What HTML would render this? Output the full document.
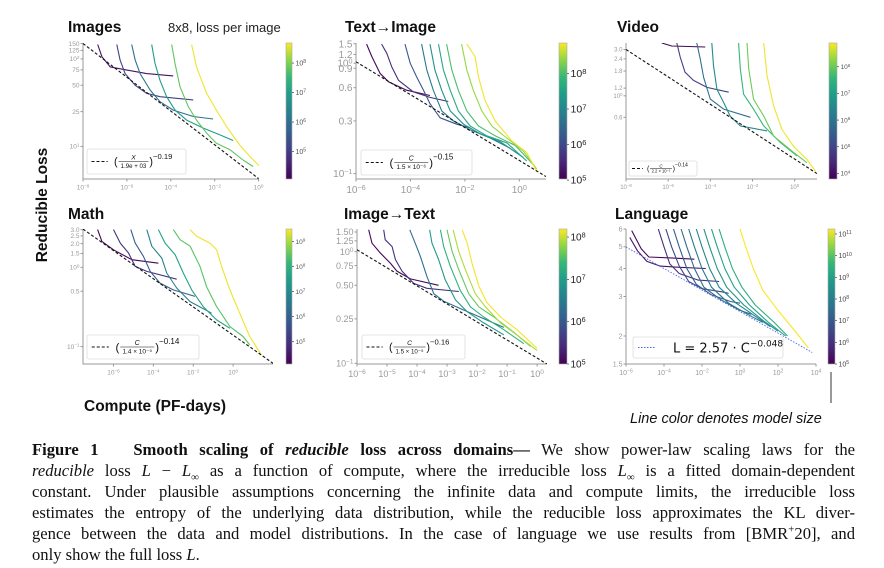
<!DOCTYPE html>
<html><head><meta charset="utf-8">
<style>
html,body{margin:0;padding:0;background:#fff;}
body{width:884px;height:568px;position:relative;overflow:hidden;font-family:"Liberation Sans","DejaVu Sans",sans-serif;}
#fig{position:absolute;left:0;top:0;}
.cap{position:absolute;left:32px;width:823px;height:21px;font-family:"Liberation Serif",serif;font-size:16.6px;line-height:21px;color:#111;white-space:nowrap;}
.j{text-align:justify;text-align-last:justify;white-space:normal;}
.cap sub,.cap sup{line-height:0;font-size:11px;}
</style></head>
<body>
<svg id="fig" width="884" height="440" viewBox="0 0 884 440" xmlns="http://www.w3.org/2000/svg">
<defs>
<linearGradient id="vir" x1="0" y1="1" x2="0" y2="0">
<stop offset="0" stop-color="#440154"/><stop offset="0.13" stop-color="#482878"/><stop offset="0.25" stop-color="#3e4989"/><stop offset="0.38" stop-color="#31688e"/><stop offset="0.5" stop-color="#26828e"/><stop offset="0.63" stop-color="#1f9e89"/><stop offset="0.75" stop-color="#35b779"/><stop offset="0.88" stop-color="#90d743"/><stop offset="1" stop-color="#fde725"/>
</linearGradient>
</defs>
<g id="panels"></g>
<text x="47" y="205" transform="rotate(-90 47 205)" text-anchor="middle" font-size="15.5" font-weight="bold" fill="#111">Reducible  Loss</text>
<text x="84" y="411" font-size="15.5" font-weight="bold" fill="#111">Compute (PF-days)</text>
<line x1="831" y1="372" x2="831" y2="403" stroke="#333" stroke-width="1"/>
<text x="630" y="423" font-size="14.5" font-style="italic" fill="#111">Line color denotes model size</text>
</svg>

<div class="cap j" style="top:439px"><b>Figure 1&nbsp;&nbsp;&nbsp;Smooth scaling of <i>reducible</i> loss across domains—</b> We show power-law scaling laws for the</div>
<div class="cap j" style="top:460px"><i>reducible</i> loss <i>L</i> − <i>L</i><sub>∞</sub> as a function of compute, where the irreducible loss <i>L</i><sub>∞</sub> is a fitted domain-dependent</div>
<div class="cap j" style="top:481px">constant. Under plausible assumptions concerning the infinite data and compute limits, the irreducible loss</div>
<div class="cap j" style="top:502px">estimates the entropy of the underlying data distribution, while the reducible loss approximates the KL diver-</div>
<div class="cap j" style="top:523px">gence between the data and model distributions. In the case of language we use results from [BMR<sup>+</sup>20], and</div>
<div class="cap" style="top:544px">only show the full loss <i>L</i>.</div>

<script>
// ---------- DATA: curves are [log10(compute), loss] ----------
const imagesCurves = [
 [[-7.33,146],[-7.14,106],[-6.76,81],[-6.0,74.5],[-5.1,68],[-3.89,64]],
 [[-6.46,146],[-6.31,97],[-6.08,68],[-5.62,50],[-5.1,40.5],[-4.49,37],[-2.98,34]],
 [[-5.78,146],[-5.62,97],[-5.40,68],[-4.94,44],[-4.49,32.5],[-3.89,26],[-2.98,22],[-2.07,20.6]],
 [[-4.87,146],[-4.72,89],[-4.49,57],[-4.19,37],[-3.81,26],[-3.28,20],[-2.52,16.2],[-1.77,13.6],[-1.16,11.7]],
 [[-3.96,146],[-3.81,89],[-3.58,48],[-3.20,28.5],[-2.83,20],[-2.37,14.2],[-1.92,10.9],[-1.31,9.2],[-0.71,7.0],[-0.25,5.9]],
 [[-3.05,146],[-2.83,81],[-2.37,40.5],[-1.92,26],[-1.46,16.9],[-0.86,10.4],[-0.40,7.7],[0.12,5.7]]
];
const imagesSizes = [4.3,5.1,6.0,6.9,7.8,8.6];
const imagesFit = [[-8,150],[0,4.3]];
const imagesYTicks = [150,125,100,75,50,25,10];
const imagesYLabels = ["150","125","10^2","75","50","25","10^1"];
const imagesXTicks = [-8,-6,-4,-2,0];
const imagesCbTicks = [5,6,7,8];

const t2iCurves = [
 [[-5.61,1.49],[-5.42,1.15],[-5.12,0.81],[-4.81,0.68],[-4.14,0.57],[-3.28,0.51]],
 [[-5.06,1.49],[-4.87,1.23],[-4.69,0.93],[-4.44,0.70],[-3.89,0.55],[-3.28,0.49],[-2.61,0.45]],
 [[-4.2,1.49],[-4.01,1.0],[-3.77,0.75],[-3.52,0.57],[-3.28,0.43],[-2.91,0.32],[-2.30,0.28],[-1.81,0.26]],
 [[-3.59,1.49],[-3.40,0.87],[-3.16,0.57],[-2.85,0.37],[-2.42,0.30],[-1.81,0.25],[-1.07,0.21],[-0.34,0.17]],
 [[-3.28,1.49],[-3.10,0.87],[-2.85,0.57],[-2.54,0.37],[-2.05,0.28],[-1.44,0.23],[-0.71,0.195],[0.15,0.14]],
 [[-2.97,1.49],[-2.79,0.87],[-2.54,0.57],[-2.24,0.37],[-1.81,0.27],[-1.20,0.22],[-0.46,0.19],[0.27,0.13]],
 [[-2.67,1.49],[-2.48,0.87],[-2.24,0.57],[-1.93,0.37],[-1.50,0.27],[-0.89,0.22],[-0.15,0.18],[0.52,0.12]],
 [[-2.12,1.49],[-1.93,0.87],[-1.69,0.57],[-1.38,0.37],[-1.01,0.27],[-0.46,0.21],[0.15,0.16],[0.64,0.11]],
 [[-1.93,1.49],[-1.63,1.15],[-1.50,0.75],[-1.26,0.46],[-0.89,0.30],[-0.28,0.198],[0.27,0.155],[0.64,0.105]]
];
const t2iSizes = [5.1,5.6,6.2,6.8,7.2,7.6,8.0,8.4,8.8];
const t2iFit = [[-6,1.03],[0.98,0.094]];
const t2iYTicks = [1.5,1.2,1.0,0.9,0.6,0.3,0.1];
const t2iYLabels = ["1.5","1.2","10^0","0.9","0.6","0.3","10^-1"];
const t2iXTicks = [-6,-4,-2,0];
const t2iCbTicks = [5,6,7,8];

const videoCurves = [
 [[-6.3,3.5],[-5.83,3.26],[-4.24,3.18]],
 [[-5.59,3.5],[-5.43,2.51],[-5.2,1.75],[-4.8,1.44],[-4.16,1.22],[-3.13,1.09]],
 [[-4.64,3.5],[-4.48,2.41],[-4.32,1.55],[-4.0,0.925],[-3.37,0.73],[-2.1,0.60]],
 [[-3.93,3.5],[-3.85,2.05],[-3.69,1.17],[-3.37,0.855],[-3.06,0.62],[-2.58,0.49],[-1.31,0.435]],
 [[-2.66,3.5],[-2.58,1.90],[-2.42,1.04],[-1.95,0.73],[-1.47,0.49],[-0.68,0.33],[0.11,0.24]],
 [[-2.26,3.5],[-2.18,1.9],[-1.95,0.925],[-1.47,0.62],[-1.0,0.385],[-0.04,0.26],[0.59,0.204]],
 [[-1.47,3.5],[-1.31,1.62],[-1.0,0.79],[-0.6,0.45],[-0.04,0.30],[0.59,0.22],[0.99,0.167]]
];
const videoSizes = [3.9,4.9,5.9,6.5,7.6,8.0,8.8];
const videoFit = [[-8,3.0],[1.06,0.158]];
const videoYTicks = [3.0,2.4,1.8,1.2,1.0,0.6];
const videoYLabels = ["3.0","2.4","1.8","1.2","10^0","0.6"];
const videoXTicks = [-8,-6,-4,-2,0];
const videoCbTicks = [4,5,6,7,8];

const mathCurves = [
 [[-6.80,3.0],[-6.58,2.13],[-6.0,1.67],[-5.08,1.25],[-3.75,1.13]],
 [[-6.0,3.0],[-5.66,2.03],[-5.25,1.52],[-4.91,1.03],[-4.33,0.89],[-2.83,0.71]],
 [[-5.13,3.0],[-4.91,2.03],[-4.5,1.38],[-4.16,0.89],[-3.66,0.63],[-3.0,0.52],[-1.91,0.43]],
 [[-4.33,3.0],[-4.08,1.85],[-3.58,1.31],[-3.33,0.85],[-2.83,0.55],[-2.16,0.37],[-1.08,0.264]],
 [[-3.75,3.0],[-3.41,2.03],[-2.91,1.45],[-2.5,0.85],[-2.08,0.52],[-1.5,0.32],[-0.83,0.217],[-0.16,0.17]],
 [[-3.0,3.0],[-2.66,2.24],[-2.16,1.85],[-1.66,1.03],[-1.33,0.57],[-0.83,0.32],[-0.16,0.179],[0.5,0.134],[0.83,0.105]],
 [[-2.16,3.0],[-1.83,2.47],[-1.16,2.03],[-0.83,1.67],[-0.58,1.03],[-0.16,0.52],[0.33,0.264],[0.83,0.134],[1.42,0.078]]
];
const mathSizes = [4.2,5.0,5.9,6.7,7.6,8.4,9.4];
const mathFit = [[-7.53,3.05],[2.0,0.0615]];
const mathYTicks = [3.0,2.5,2.0,1.5,1.0,0.5,0.1];
const mathYLabels = ["3.0","2.5","2.0","1.5","10^0","0.5","10^-1"];
const mathXTicks = [-6,-4,-2,0];
const mathCbTicks = [5,6,7,8,9];

const i2tCurves = [
 [[-5.61,1.57],[-5.5,1.19],[-5.22,0.97],[-4.89,0.79],[-4.67,0.67],[-4.22,0.57],[-3.28,0.50]],
 [[-5.11,1.57],[-5.06,1.28],[-4.83,1.11],[-4.72,0.85],[-4.5,0.67],[-4.11,0.52],[-3.67,0.47],[-2.61,0.44]],
 [[-4.24,1.57],[-4.06,1.19],[-3.89,0.91],[-3.67,0.60],[-3.44,0.42],[-3.11,0.36],[-2.44,0.30],[-1.11,0.21]],
 [[-3.58,1.57],[-3.5,1.19],[-3.28,0.85],[-3.06,0.56],[-2.72,0.37],[-2.33,0.29],[-1.78,0.23],[-1.11,0.18]],
 [[-3.22,1.57],[-3.11,1.11],[-2.89,0.74],[-2.56,0.45],[-2.22,0.32],[-1.78,0.26],[-1.11,0.20],[-0.44,0.15]],
 [[-3.0,1.57],[-2.83,1.0],[-2.61,0.69],[-2.28,0.42],[-1.94,0.32],[-1.44,0.26],[-0.78,0.19],[-0.22,0.142]],
 [[-2.8,1.57],[-2.61,1.0],[-2.39,0.69],[-2.06,0.42],[-1.72,0.32],[-1.22,0.23],[-0.56,0.17],[0,0.13]],
 [[-2.5,1.57],[-2.33,1.19],[-2.17,0.79],[-1.94,0.49],[-1.67,0.35],[-1.22,0.26],[-0.67,0.20],[0,0.136]]
];
const i2tSizes = [5.05,5.5,6.3,6.9,7.3,7.6,7.9,8.15];
const i2tFit = [[-6,1.04],[0.33,0.0986]];
const i2tYTicks = [1.5,1.25,1.0,0.75,0.5,0.25,0.1];
const i2tYLabels = ["1.50","1.25","10^0","0.75","0.50","0.25","10^-1"];
const i2tXTicks = [-6,-5,-4,-3,-2,-1,0];
const i2tCbTicks = [5,6,7,8];

const langCurves = [
 [[-5.7,5.9],[-5.2,4.9],[-4.8,4.5],[-3.5,4.45],[-2.4,4.4]],
 [[-5.8,5.5],[-5.4,4.8],[-4.9,4.3],[-4.2,4.1],[-3.2,4.05],[-1.8,4.0]],
 [[-4.3,6],[-4.0,5.0],[-3.7,4.2],[-3.2,3.8],[-2.2,3.55],[-1.1,3.5]],
 [[-3.9,6],[-3.6,5.0],[-3.2,4.1],[-2.7,3.5],[-2.0,3.25],[-1.0,3.15],[-0.6,3.1]],
 [[-3.5,6],[-3.2,5],[-2.8,4.0],[-2.3,3.4],[-1.5,3.05],[-0.5,2.85],[0,2.8]],
 [[-3.1,6],[-2.8,5],[-2.4,4.0],[-1.9,3.3],[-1.0,2.9],[0,2.6],[0.6,2.5]],
 [[-2.7,6],[-2.4,5],[-2.0,4.0],[-1.5,3.3],[-0.6,2.8],[0.4,2.5],[1.2,2.3]],
 [[-2.3,6],[-2.0,5],[-1.6,4.0],[-1.1,3.3],[-0.2,2.8],[0.8,2.45],[1.6,2.2]],
 [[-1.9,6],[-1.6,5],[-1.2,4.0],[-0.7,3.3],[0.2,2.75],[1.2,2.35],[2.0,2.1]],
 [[-1.5,6],[-1.2,5],[-0.8,4.0],[-0.3,3.3],[0.5,2.75],[1.5,2.3],[2.4,2.0]],
 [[-1.1,6],[-0.8,5],[-0.4,4.0],[0.1,3.3],[0.8,2.75],[1.8,2.3],[2.5,2.0]],
 [[0,6],[0.3,5],[0.7,4.0],[1.2,3.2],[2.0,2.6],[2.8,2.15],[3.6,1.77]]
];
const langSizes = [5.1,5.4,6.0,6.5,7.0,7.4,7.8,8.2,8.6,9.0,9.4,11.2];
const langFitCoef = [2.57];
const langFitExp = [-0.048];
const langYTicks = [6,5,4,3,2,1.5];
const langYLabels = ["6","5","4","3","2","1.5"];
const langXTicks = [-6,-4,-2,0,2,4];
const langCbTicks = [5,6,7,8,9,10,11];

// ---------- rendering ----------
const NS = "http://www.w3.org/2000/svg";
const root = document.getElementById('panels');
function el(tag, attrs, parent){ const e=document.createElementNS(NS,tag); for(const k in attrs) e.setAttribute(k,attrs[k]); (parent||root).appendChild(e); return e; }
const VIR=[[68,1,84],[72,40,120],[62,73,137],[49,104,142],[38,130,142],[31,158,137],[53,183,121],[144,215,67],[253,231,37]];
function viridis(t){ t=Math.max(0,Math.min(1,t)); const f=t*(VIR.length-1); const i=Math.min(VIR.length-2,Math.floor(f)); const r=f-i; const a=VIR[i],b=VIR[i+1]; return 'rgb('+a.map((v,k)=>Math.round(v+(b[k]-v)*r)).join(',')+')'; }
function powText(parent, x, y, s, attrs){
  const t=el('text',Object.assign({x:x,y:y},attrs),parent);
  const m=s.match(/^10\^(.*)$/);
  if(m){ t.appendChild(document.createTextNode('10')); const sp=el('tspan',{dy:'-0.45em','font-size':'0.72em'},t); sp.textContent=m[1].replace('-','−'); }
  else t.textContent=s;
  return t;
}
let clipId=0;
function panel(cfg){
  const g=el('g',{});
  
  
  const {x0,y0,w,h,xmin,xmax,ymin,ymax}=cfg;
  const sx=lc=>x0+(lc-xmin)/(xmax-xmin)*w;
  const sy=v=>y0+h-(Math.log10(v)-ymin)/(ymax-ymin)*h;
  const tt=el('text',{x:cfg.tx,y:cfg.ty,'font-size':15.5,'font-weight':'bold',fill:'#111'},g);
  
  
  tt.textContent=cfg.title;
  if(cfg.sub){ const st=el('text',{x:cfg.sub[1],y:cfg.ty,'font-size':13,fill:'#222'},g);
    
    
    st.textContent=cfg.sub[0]; }
  const cid='c'+(clipId++);
  const cp=el('clipPath',{id:cid},g); el('rect',{x:x0,y:y0,width:w,height:h},cp);
  const ax=el('path',{d:`M${x0},${y0} V${y0+h} H${x0+w}`,stroke:'#999',fill:'none','stroke-width':1},g);
  
  
  const tfs=cfg.tfs, tcol=cfg.tcol||'#9a9a9a';
  cfg.xt.forEach(e=>{ const X=sx(e); el('line',{x1:X,y1:y0+h,x2:X,y2:y0+h+2.5,stroke:'#999'},g);
    const t=powText(g,X,y0+h+4+tfs,'10^'+e,{'font-size':tfs,fill:tcol,'text-anchor':'middle'});
    
     });
  cfg.yt.forEach((v,i)=>{ const Y=sy(v); el('line',{x1:x0-2.5,y1:Y,x2:x0,y2:Y,stroke:'#999'},g);
    const t=powText(g,x0-3.5,Y+tfs*0.35,cfg.yl[i],{'font-size':tfs,fill:tcol,'text-anchor':'end'});
    
     });
  const cg=el('g',{'clip-path':`url(#${cid})`},g);
  let fd;
  if(cfg.fit){ fd=`M${sx(cfg.fit[0][0])},${sy(cfg.fit[0][1])} L${sx(cfg.fit[1][0])},${sy(cfg.fit[1][1])}`; }
  else { const a=[]; for(let k=0;k<=20;k++){ const lc=xmin+(xmax-xmin)*k/20*0.98; a.push((k?'L':'M')+sx(lc)+','+sy(cfg.coef[0]*Math.pow(10,lc*cfg.exp[0]))); } fd=a.join(' '); }
  cfg.curves.forEach((c,i)=>{
    const p=el('polyline',{points:c.map(q=>sx(q[0]).toFixed(1)+','+sy(q[1]).toFixed(1)).join(' '),fill:'none',stroke:viridis((cfg.sizes[i]-cfg.cmin)/(cfg.cmax-cfg.cmin)),'stroke-width':1.1,'stroke-linejoin':'round'},cg);
    
    
  });
  const fl=el('path',{d:fd,stroke:cfg.fitColor||'#111','stroke-width':cfg.fitColor?0.9:1.1,'stroke-dasharray':cfg.fitColor?'1.5,1.5':'3,2',fill:'none'},cg);
  
  
  const L=cfg.leg;
  const lg=el('g',{},g);
  
  
  el('rect',{x:L.x,y:L.y,width:L.w,height:L.h,rx:2,fill:'#fff',stroke:'#ddd','stroke-width':0.8},lg);
  const my=L.y+L.h/2, s=L.s;
  el('line',{x1:L.x+5*s,y1:my,x2:L.x+23*s,y2:my,stroke:cfg.fitColor||'#111','stroke-width':1,'stroke-dasharray':cfg.fitColor?'1.5,1.5':'3,2'},lg);
  if(L.lang){
    const t=el('text',{x:L.x+40,y:my+5,'font-size':13,fill:'#111','font-family':'"DejaVu Sans",sans-serif'},lg);
    t.textContent='L = 2.57 · C'; const sp=el('tspan',{dy:-6,'font-size':9},t); sp.textContent='−0.048';
  } else {
    const fx=L.x+30*s;
    const p1=el('text',{x:fx,y:my+4*s,'font-size':12*s,fill:'#111'},lg); p1.textContent='(';
    const cx=fx+5*s+L.dw/2;
    const n=el('text',{x:cx,y:my-2*s,'font-size':7.5*s,'text-anchor':'middle',fill:'#111','font-style':'italic'},lg); n.textContent=L.num;
    el('line',{x1:fx+5*s,y1:my,x2:fx+5*s+L.dw,y2:my,stroke:'#111','stroke-width':0.6},lg);
    const d=el('text',{x:cx,y:my+7*s,'font-size':6.8*s,'text-anchor':'middle',fill:'#111'},lg); d.textContent=L.den;
    const p2=el('text',{x:fx+6*s+L.dw,y:my+4*s,'font-size':12*s,fill:'#111'},lg); p2.textContent=')';
    const ex=el('text',{x:fx+10*s+L.dw,y:my-3*s,'font-size':8.5*s,fill:'#111'},lg); ex.textContent=L.exp;
  }
  const C=cfg.cb;
  const cb=el('rect',{x:C.x,y:y0,width:C.w,height:h,fill:'url(#vir)',stroke:'#aaa','stroke-width':0.6},g);
  
  
  cfg.cbt.forEach(e=>{ const Y=y0+h-(e-cfg.cmin)/(cfg.cmax-cfg.cmin)*h;
    el('line',{x1:C.x+C.w,y1:Y,x2:C.x+C.w+2,y2:Y,stroke:'#444','stroke-width':0.7},g);
    const t=powText(g,C.x+C.w+3.5,Y+C.fs*0.35,'10^'+e,{'font-size':C.fs,fill:C.col});
    
     });
}

panel({name:'images',title:'Images',sub:['8x8, loss per image',168],tx:68,ty:32,x0:83,y0:43,w:176,h:136,xmin:-8,xmax:0.02,ymin:Math.log10(4.25),ymax:Math.log10(152),
 curves:imagesCurves,sizes:imagesSizes,fit:imagesFit,xt:imagesXTicks,yt:imagesYTicks,yl:imagesYLabels,tfs:6.5,cmin:4.07,cmax:8.68,cbt:imagesCbTicks,
 cb:{x:286,w:6,fs:7,col:'#555'},leg:{x:87,y:149,w:99,h:25,s:0.9,num:'X',den:'1.9e + 03',dw:30,exp:'−0.19'}});
panel({name:'text-to-image',title:'Text→Image',tx:345,ty:32,x0:356,y0:43,w:190,h:136,xmin:-6,xmax:0.98,ymin:-1.049,ymax:0.183,
 curves:t2iCurves,sizes:t2iSizes,fit:t2iFit,xt:t2iXTicks,yt:t2iYTicks,yl:t2iYLabels,tfs:10,cmin:5.03,cmax:8.86,cbt:t2iCbTicks,
 cb:{x:559,w:8,fs:10.5,col:'#222'},leg:{x:361,y:150,w:111,h:25,s:0.95,num:'C',den:'1.5 × 10⁻⁶',dw:34,exp:'−0.15'}});
panel({name:'video',title:'Video',tx:617,ty:32,x0:626,y0:43,w:191,h:136,xmin:-8,xmax:1.06,ymin:-0.857,ymax:0.544,
 curves:videoCurves,sizes:videoSizes,fit:videoFit,xt:videoXTicks,yt:videoYTicks,yl:videoYLabels,tfs:6,cmin:3.79,cmax:8.89,cbt:videoCbTicks,
 cb:{x:829,w:8,fs:6.5,col:'#555'},leg:{x:629,y:161,w:68,h:15,s:0.6,num:'C',den:'2.2 × 10⁻⁵',dw:22,exp:'−0.14'}});
panel({name:'math',title:'Math',tx:68,ty:219,x0:83,y0:229,w:190,h:135,xmin:-7.53,xmax:2.0,ymin:-1.22,ymax:0.485,
 curves:mathCurves,sizes:mathSizes,fit:mathFit,xt:mathXTicks,yt:mathYTicks,yl:mathYLabels,tfs:6.5,cmin:4.1,cmax:9.5,cbt:mathCbTicks,
 cb:{x:286,w:6,fs:6.5,col:'#555'},leg:{x:87,y:335,w:112,h:24,s:0.95,num:'C',den:'1.4 × 10⁻⁵',dw:34,exp:'−0.14'}});
panel({name:'image-to-text',title:'Image→Text',tx:344,ty:219,x0:357,y0:229,w:190,h:135,xmin:-6,xmax:0.33,ymin:-1.006,ymax:0.203,
 curves:i2tCurves,sizes:i2tSizes,fit:i2tFit,xt:i2tXTicks,yt:i2tYTicks,yl:i2tYLabels,tfs:9,cmin:5,cmax:8.19,cbt:i2tCbTicks,
 cb:{x:559,w:8,fs:10,col:'#222'},leg:{x:362,y:335,w:103,h:24,s:0.9,num:'C',den:'1.5 × 10⁻⁵',dw:32,exp:'−0.16'}});
panel({name:'language',title:'Language',tx:615,ty:219,x0:626,y0:229,w:190,h:135,xmin:-6,xmax:4,ymin:Math.log10(1.5),ymax:Math.log10(6),
 curves:langCurves,sizes:langSizes,coef:langFitCoef,exp:langFitExp,fitColor:'#4466ee',xt:langXTicks,yt:langYTicks,yl:langYLabels,tfs:7,cmin:5,cmax:11.23,cbt:langCbTicks,
 cb:{x:828,w:7,fs:7,col:'#444'},leg:{x:633,y:337,w:150,h:21,s:1,lang:true}});
</script>
</body></html>
